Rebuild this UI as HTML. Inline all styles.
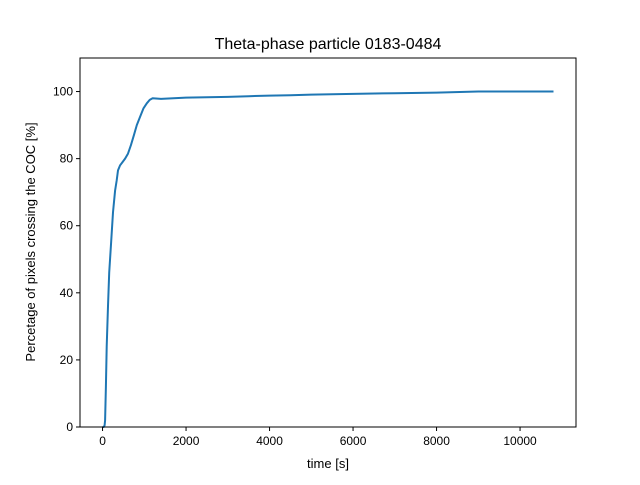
<!DOCTYPE html>
<html><head><meta charset="utf-8"><style>
body{margin:0;background:#fff;font-family:"Liberation Sans","DejaVu Sans",sans-serif}
</style></head><body>
<svg width="640" height="480" xmlns="http://www.w3.org/2000/svg">
<rect width="640" height="480" fill="#fff"/>
<text x="328" y="49" text-anchor="middle" font-size="16">Theta-phase particle 0183-0484</text>
<g id="plot"></g>
<rect x="80" y="58" width="496" height="369" fill="none" stroke="#000" stroke-width="1"/>
<g id="xt"></g>
<g id="yt"></g>
<text x="328" y="468" text-anchor="middle" font-size="13">time [s]</text>
<text transform="translate(35,242) rotate(-90)" text-anchor="middle" font-size="13">Percetage of pixels crossing the COC [%]</text>
</svg>
<script>
const times=[0,30,50,60,80,100,130,160,200,250,300,340,370,420,480,540,610,680,750,820,900,980,1060,1130,1200,1400,1700,2000,2500,3000,3500,4000,4500,5000,6000,7000,8000,9000,10000,10800];
const values=[0,0,0.5,2,12,24,36,46,54,64,70.5,73.5,76.5,78,79,80,81.5,84,87,90,92.5,95,96.5,97.5,98,97.8,98,98.2,98.3,98.4,98.6,98.8,98.9,99.1,99.3,99.5,99.7,100,100,100];
const xTicks=[0,2000,4000,6000,8000,10000];
const yTicks=[0,20,40,60,80,100];
const X0=80,X1=576,Y0=427,Y1=58,xmin=-540,xmax=11340,ymin=0,ymax=110;
const sx=v=>X0+(v-xmin)/(xmax-xmin)*(X1-X0);
const sy=v=>Y0-(v-ymin)/(ymax-ymin)*(Y0-Y1);
const NS="http://www.w3.org/2000/svg";
const plot=document.getElementById('plot');
const line=document.createElementNS(NS,'polyline');
line.setAttribute('points',times.map((t,i)=>sx(t).toFixed(1)+','+sy(values[i]).toFixed(1)).join(' '));
line.setAttribute('fill','none');line.setAttribute('stroke','#1f77b4');line.setAttribute('stroke-width','2');line.setAttribute('stroke-linejoin','round');


plot.appendChild(line);
const xt=document.getElementById('xt');
xTicks.forEach(v=>{
 const l=document.createElementNS(NS,'line');
 l.setAttribute('x1',sx(v));l.setAttribute('x2',sx(v));l.setAttribute('y1',Y0);l.setAttribute('y2',Y0+4);l.setAttribute('stroke','#000');
 
 
 xt.appendChild(l);
 const t=document.createElementNS(NS,'text');
 t.setAttribute('x',sx(v));t.setAttribute('y',Y0+18);t.setAttribute('text-anchor','middle');t.setAttribute('font-size','12');t.textContent=v;
 
 
 xt.appendChild(t);
});
const yt=document.getElementById('yt');
yTicks.forEach(v=>{
 const l=document.createElementNS(NS,'line');
 l.setAttribute('x1',X0-4);l.setAttribute('x2',X0);l.setAttribute('y1',sy(v));l.setAttribute('y2',sy(v));l.setAttribute('stroke','#000');
 
 
 yt.appendChild(l);
 const t=document.createElementNS(NS,'text');
 t.setAttribute('x',X0-7);t.setAttribute('y',sy(v)+4);t.setAttribute('text-anchor','end');t.setAttribute('font-size','12');t.textContent=v;
 
 
 yt.appendChild(t);
});
</script>
</body></html>
